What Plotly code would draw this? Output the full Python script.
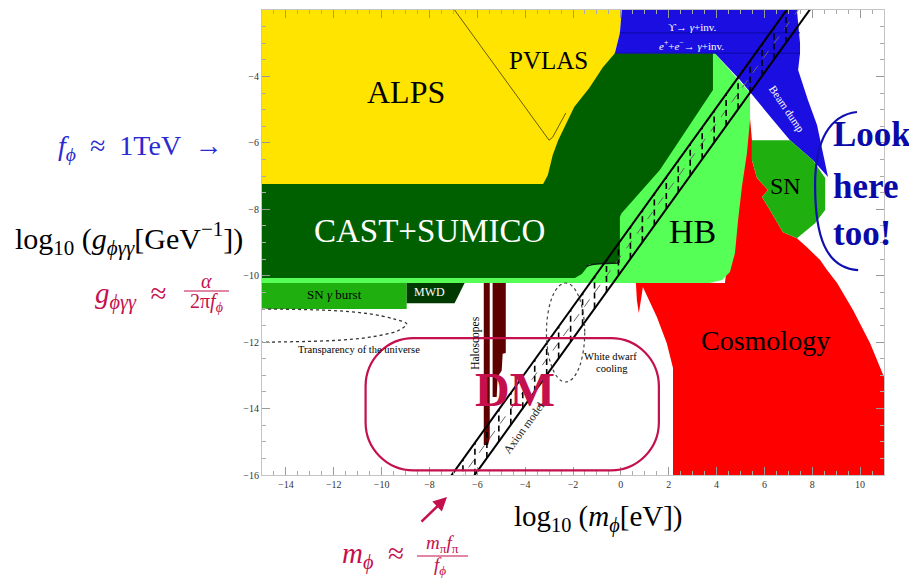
import plotly.graph_objects as go

SERIF = "Liberation Serif"

# ---------------- axis ranges & ticks ----------------
X_RANGE = [-15, 11]
Y_RANGE = [-16, -2]

# ---------------- exclusion regions (log10 m [eV], log10 g [GeV^-1]) ----------------
COSMO_X = [5.31, 5.48, 5.48, 5.69, 6.15, 5.90, 6.23, 6.78, 7.36, 7.78, 8.33, 8.62, 9.04, 9.71, 10.42, 11.0,
           11.0, 2.18, 2.18, 1.92, 1.51, 1.21, 0.92, 0.84, 0.75, 0.67, 0.63, 4.35, 4.77, 5.19]
COSMO_Y = [-4.5, -5.92, -6.52, -7.06, -7.42, -7.63, -8.02, -8.69, -8.87, -9.14, -9.53, -9.83, -10.22, -11.04,
           -12.03, -13.05, -16.0, -16.0, -12.78, -12.03, -11.25, -10.80, -10.34, -10.73, -11.13, -10.73, -10.22,
           -10.22, -7.72, -5.31]

HB_X = [-15, -15, -0.5, 1.0, 3.5, 3.93, 5.40, 5.40, 5.27, 5.06, 4.90, 4.77, 4.56, 4.23, 3.72]
HB_Y = [-10.22, -9.0, -9.0, -6.5, -3.3, -3.3, -4.5, -5.31, -6.31, -7.33, -8.33, -9.32, -9.89, -10.13, -10.22]

ALPS_X = [-15, 0.04, -0.04, -0.25, 1.0, 1.0, -3.3, -15]
ALPS_Y = [-2, -2, -2.69, -3.3, -3.3, -6.0, -7.5, -7.5]

CAST_X = [-15, -3.25, -3.05, -2.85, -2.62, -2.38, -1.95, -1.32, -0.75, -0.25, 3.85, 3.85, 1.63, 0.04,
          -0.04, -0.04, -0.54, -1.30, -1.42, -1.63, -1.92, -15]
CAST_Y = [-7.24, -7.24, -6.97, -6.37, -5.92, -5.55, -4.92, -4.35, -3.72, -3.30, -3.30, -4.41, -6.82, -8.11,
          -8.23, -9.62, -9.65, -9.65, -9.77, -9.95, -10.07, -10.07]

COLLIDER_X = [0.04, 7.36, 7.49, 7.49, 7.41, 7.82, 8.20, 8.41, 8.62, 8.66, 8.03, 7.07, 6.36, 5.48, 4.98, 3.93,
              -0.25, -0.04]
COLLIDER_Y = [-2.0, -2.0, -3.0, -3.3, -3.81, -4.71, -5.46, -6.13, -6.88, -7.03, -6.52, -5.92, -5.31, -4.56,
              -4.11, -3.3, -3.3, -2.69]

SN_X = [5.48, 7.07, 8.03, 8.54, 8.54, 8.12, 7.36, 6.78, 6.23, 5.90, 6.15, 5.69, 5.48]
SN_Y = [-5.92, -5.92, -6.52, -7.06, -8.02, -8.42, -8.87, -8.69, -8.02, -7.63, -7.42, -7.06, -6.52]

SNGAMMA_X = [-15, -8.95, -8.95, -15]
SNGAMMA_Y = [-10.22, -10.22, -11.0, -11.0]

MWD_X = [-8.95, -6.53, -6.95, -8.95]
MWD_Y = [-10.22, -10.22, -10.83, -10.83]

HALO1_X = [-5.73, -5.48, -5.48, -5.55, -5.73]
HALO1_Y = [-10.22, -10.22, -14.9, -15.1, -15.1]
HALO2_X = [-5.36, -4.81, -4.81, -4.94, -4.98, -5.15, -5.19, -5.36]
HALO2_Y = [-10.22, -10.22, -12.33, -12.35, -12.85, -13.05, -13.65, -13.65]

PVLAS_X = [-6.95, -3.0, -2.85, -2.6, -2.3]
PVLAS_Y = [-2.0, -5.92, -5.83, -5.5, -5.1]

CAST_NOISE_X = [-1.45, -1.2, -0.9, -0.6, -0.3, -0.1]
CAST_NOISE_Y = [-9.72, -9.66, -9.64, -9.63, -9.64, -9.62]

TRANSP_X = [-15, -12, -10.5, -9.5, -8.95, -9.3, -10.5, -12, -15]
TRANSP_Y = [-11.0, -11.05, -11.15, -11.3, -11.45, -11.65, -11.85, -11.95, -12.0]

# white dwarf cooling ellipse bounds
WD_BOX = [-3.11, -1.51, -10.22, -13.2]

# axion model band: log g = log m + offset
AXION_UPPER = -8.93
AXION_LOWER = -9.89
AXION_MID = -9.41
AXION_TICK_X = [-6.6, -6.1, -5.6, -5.1, -4.6, -4.1, -3.6, -3.1, -2.6, -2.1, -1.6, -1.1, -0.6, -0.1,
                0.4, 0.9, 1.4, 1.9, 2.4, 2.9, 3.4, 3.9, 4.4, 4.9, 5.4, 5.9, 6.4, 6.9]

# DM rounded box (left, right, top, bottom, corner radii)
DM_BOX = [-10.67, 1.59, -11.88, -15.86]
DM_R = [2.0, 1.45]

# bracket around "Look here too!"
BRACKET_PTS = [(9.87, -5.07), (8.74, -5.16), (8.12, -5.92), (8.12, -7.27),
               (8.12, -8.78), (8.54, -9.77), (9.92, -9.83)]

COL_RED = "#ff0000"
COL_HB = "#55ff55"
COL_ALPS = "#ffe400"
COL_CAST = "#006000"
COL_BLUE = "#1a0fe0"
COL_SN = "#1fb00f"
COL_MWD = "#003a00"
COL_HALO = "#5e0000"
COL_CRIMSON = "#c4104c"

fig = go.Figure()


def poly(xs, ys, color):
    fig.add_trace(go.Scatter(x=xs, y=ys, fill="toself", fillcolor=color, mode="lines",
                             line=dict(width=0, color=color), hoverinfo="skip"))


poly(COSMO_X, COSMO_Y, COL_RED)
poly(HB_X, HB_Y, COL_HB)
poly(ALPS_X, ALPS_Y, COL_ALPS)
poly(CAST_X, CAST_Y, COL_CAST)
poly(COLLIDER_X, COLLIDER_Y, COL_BLUE)
poly(SN_X, SN_Y, COL_SN)
poly(SNGAMMA_X, SNGAMMA_Y, COL_SN)
poly(MWD_X, MWD_Y, COL_MWD)
poly(HALO1_X, HALO1_Y, COL_HALO)
poly(HALO2_X, HALO2_Y, COL_HALO)

# collider separator lines
fig.add_trace(go.Scatter(x=[-0.04, 7.49, None, -0.25, 7.49], y=[-2.69, -2.69, None, -3.3, -3.3],
                         mode="lines", line=dict(color="#0a0aa0", width=1), hoverinfo="skip"))
# PVLAS line
fig.add_trace(go.Scatter(x=PVLAS_X, y=PVLAS_Y, mode="lines", line=dict(color="#6a5a00", width=1),
                         hoverinfo="skip"))
fig.add_trace(go.Scatter(x=CAST_NOISE_X, y=CAST_NOISE_Y, mode="lines", line=dict(color="#102010", width=1.5),
                         hoverinfo="skip"))
# transparency of the universe
fig.add_trace(go.Scatter(x=TRANSP_X, y=TRANSP_Y, mode="lines", line=dict(color="#333", width=1.3, dash="dot"),
                         line_shape="spline", hoverinfo="skip"))

# axion band
bx = [-9.0, 9.0]
fig.add_trace(go.Scatter(x=bx, y=[v + AXION_MID for v in bx], mode="lines",
                         line=dict(color="#666", width=1, dash="dash"), hoverinfo="skip"))
tx, ty = [], []
for v in AXION_TICK_X:
    tx += [v, v, None]
    ty += [v + AXION_LOWER, v + AXION_UPPER, None]
fig.add_trace(go.Scatter(x=tx, y=ty, mode="lines", line=dict(color="black", width=1.6, dash="6px,4px"),
                         hoverinfo="skip"))
for off in (AXION_UPPER, AXION_LOWER):
    fig.add_trace(go.Scatter(x=bx, y=[v + off for v in bx], mode="lines",
                             line=dict(color="black", width=2), hoverinfo="skip"))

# shapes
L, R, T, B = DM_BOX
rx, ry = DM_R
k = 0.5523
dm_path = (f"M {L+rx},{T} L {R-rx},{T} C {R-rx+k*rx},{T} {R},{T-ry+k*ry} {R},{T-ry} "
           f"L {R},{B+ry} C {R},{B+ry-k*ry} {R-rx+k*rx},{B} {R-rx},{B} "
           f"L {L+rx},{B} C {L+rx-k*rx},{B} {L},{B+ry-k*ry} {L},{B+ry} "
           f"L {L},{T-ry} C {L},{T-ry+k*ry} {L+rx-k*rx},{T} {L+rx},{T} Z")
p = BRACKET_PTS
br_path = (f"M {p[0][0]},{p[0][1]} C {p[1][0]},{p[1][1]} {p[2][0]},{p[2][1]} {p[3][0]},{p[3][1]} "
           f"C {p[4][0]},{p[4][1]} {p[5][0]},{p[5][1]} {p[6][0]},{p[6][1]}")

shapes = [
    dict(type="path", path=dm_path, xref="x", yref="y", line=dict(color=COL_CRIMSON, width=2.2)),
    dict(type="circle", x0=WD_BOX[0], x1=WD_BOX[1], y0=WD_BOX[2], y1=WD_BOX[3], xref="x", yref="y",
         line=dict(color="#444", width=1.2, dash="dot")),
    dict(type="path", path=br_path, xref="x", yref="y", line=dict(color="#1010b0", width=2.2)),
]


# page pixel -> paper coords (page body adds an 8px offset; plot area spans 262..884 x 10..475)
def PX(x):
    return (x - 262) / 622


def PY(y):
    return (475 - y) / 465


# fraction bars
shapes.append(dict(type="line", xref="paper", yref="paper", x0=PX(184), x1=PX(229), y0=PY(291), y1=PY(291),
                   line=dict(color=COL_CRIMSON, width=1.2)))
shapes.append(dict(type="line", xref="paper", yref="paper", x0=PX(417), x1=PX(468), y0=PY(556), y1=PY(556),
                   line=dict(color=COL_CRIMSON, width=1.2)))

ann = []


def A(text, x, y, size, color="black", angle=0, ref="x", bold=False, xanchor="center"):
    if ref == "x":
        d = dict(x=x, y=y, xref="x", yref="y")
    else:
        d = dict(x=PX(x), y=PY(y), xref="paper", yref="paper")
    if bold:
        text = "<b>" + text + "</b>"
    d.update(text=text, showarrow=False, textangle=angle, xanchor=xanchor, yanchor="middle",
             font=dict(family=SERIF, size=size, color=color))
    ann.append(d)


A("ALPS", -9.0, -4.47, 32)
A("PVLAS", -3.01, -3.51, 25)
A("CAST+SUMICO", -7.99, -8.66, 33, "white")
A("HB", 3.01, -8.66, 34)
A("SN", 6.9, -7.3, 24)
A("Cosmology", 6.03, -11.94, 28)
A("SN <i>γ</i> burst", -11.97, -10.58, 13)
A("MWD", -7.99, -10.49, 12, "white")
A("Transparency of the universe", -10.96, -12.21, 10.5)
A("Haloscopes", -6.11, -12.03, 11.5, angle=-90)
A("DM", -4.44, -13.42, 48, COL_CRIMSON, bold=True)
A("Axion model", -4.06, -14.59, 11.5, "#222", angle=-54)
A("White dwarf", -0.42, -12.42, 10.5)
A("cooling", -0.38, -12.78, 10.5)
A("ϒ→ <i>γ</i>+inv.", 3.01, -2.51, 11, "white")
A("<i>e</i><sup>+</sup>+<i>e</i><sup>−</sup>→ <i>γ</i>+inv.", 2.97, -3.05, 11, "white")
A("Beam dump", 6.95, -4.98, 11, "white", angle=56)

# outside labels (page pixel positions)
A("<i>f</i><sub><i>ϕ</i></sub>  ≈  1TeV  →", 140, 147, 28, "#2a2ad0", ref="p")
A("log<sub>10</sub> (<i>g</i><sub><i>ϕγγ</i></sub>[GeV<sup>−1</sup>])", 129, 239, 30, ref="p")
A("<i>g</i><sub><i>ϕγγ</i></sub>  ≈", 130, 295, 29, COL_CRIMSON, ref="p")
A("<i>α</i>", 206, 281, 20, COL_CRIMSON, ref="p")
A("2π<i>f</i><sub><i>ϕ</i></sub>", 206, 302, 20, COL_CRIMSON, ref="p")
A("log<sub>10</sub> (<i>m</i><sub><i>ϕ</i></sub>[eV])", 598, 518, 29, ref="p")
A("<i>m</i><sub><i>ϕ</i></sub>  ≈", 373, 555, 29, COL_CRIMSON, ref="p")
A("<i>m</i><sub>π</sub><i>f</i><sub>π</sub>", 442, 544, 19, COL_CRIMSON, ref="p")
A("<i>f</i><sub><i>ϕ</i></sub>", 440, 566, 19, COL_CRIMSON, ref="p")
A("Look", 831, 135, 35, "#0a0aa8", ref="p", bold=True, xanchor="left")
A("here", 831, 186, 35, "#0a0aa8", ref="p", bold=True, xanchor="left")
A("too!", 831, 233, 35, "#0a0aa8", ref="p", bold=True, xanchor="left")

ann.append(dict(x=PX(447), y=PY(497), xref="paper", yref="paper", text="", showarrow=True,
                ax=-27, ay=26, arrowhead=2, arrowsize=1.1, arrowwidth=2.5, arrowcolor=COL_CRIMSON))

axis_common = dict(ticks="inside", ticklen=8, tickwidth=1, tickcolor="#999", showline=True,
                   linecolor="#c4c4c4", linewidth=1, mirror="ticks", showgrid=False, zeroline=False,
                   tickfont=dict(family=SERIF, size=10, color="#333"),
                   minor=dict(dtick=0.5, ticks="inside", ticklen=4, tickcolor="#aaa", showgrid=False))

fig.update_layout(
    width=909, height=573, margin=dict(l=254, r=33, t=2, b=106),
    paper_bgcolor="white", plot_bgcolor="white", showlegend=False,
    xaxis=dict(range=X_RANGE, dtick=2, tick0=0, **axis_common),
    yaxis=dict(range=Y_RANGE, dtick=2, tick0=0, **axis_common),
    shapes=shapes, annotations=ann,
)

fig.write_html("out.html")
